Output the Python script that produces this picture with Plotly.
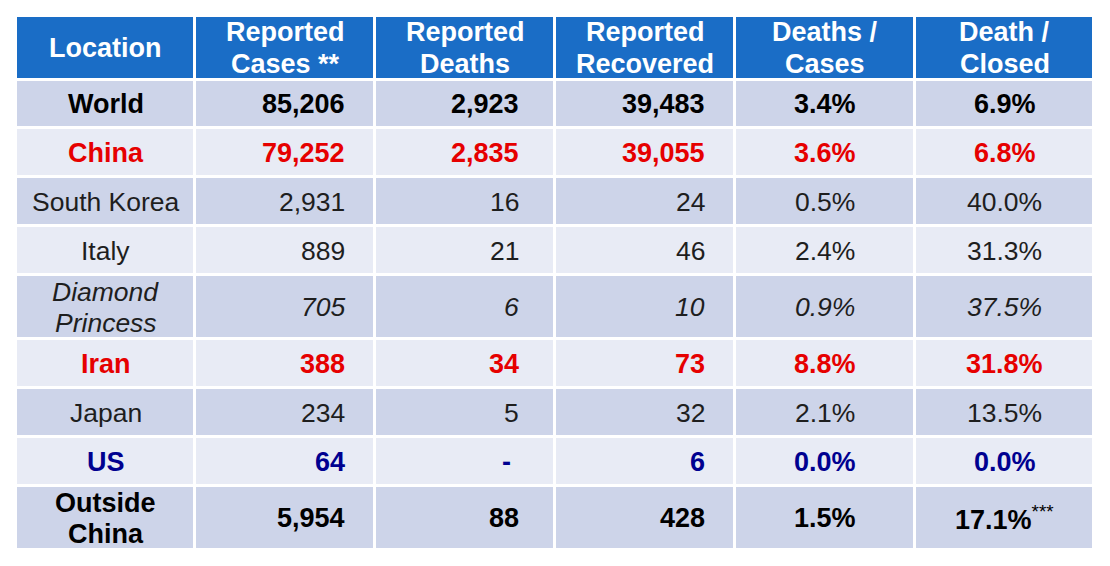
import plotly.graph_objects as go

# ---------------- data ----------------
headers = ["Location", "Reported<br>Cases **", "Reported<br>Deaths",
           "Reported<br>Recovered", "Deaths /<br>Cases", "Death /<br>Closed"]
locations = ["World", "China", "South Korea", "Italy", "Diamond<br>Princess",
             "Iran", "Japan", "US", "Outside<br>China"]
cases = [85206, 79252, 2931, 889, 705, 388, 234, 64, 5954]
deaths = [2923, 2835, 16, 21, 6, 34, 5, None, 88]
recovered = [39483, 39055, 24, 46, 10, 73, 32, 6, 428]
deaths_per_cases = [3.4, 3.6, 0.5, 2.4, 0.9, 8.8, 2.1, 0.0, 1.5]
death_per_closed = [6.9, 6.8, 40.0, 31.3, 37.5, 31.8, 13.5, 0.0, 17.1]
footnote_marks = ["", "", "", "", "", "", "", "", "***"]

# ---------------- styles / layout ----------------
row_style = ["bold", "bold_red", "normal", "normal", "italic",
             "bold_red", "normal", "bold_navy", "bold"]
style_color = {"bold": "#000000", "bold_red": "#e60000", "normal": "#1e1e1e",
               "italic": "#1e1e1e", "bold_navy": "#000090"}
HEADER_BG, DARK_BG, LIGHT_BG = "#1a6dc6", "#cdd4e9", "#e8ebf5"

col_widths = [179, 180, 180, 180, 180, 179]
row_heights = [64, 48, 49, 49, 49, 64, 49, 49, 49, 64]
table_left, table_top = 16, 16
col_align = ["center", "right", "right", "right", "center", "center"]
right_pad = [0, 28, 34, 28, 0, 0]
MISSING_SHIFT = -8
FONT = "Liberation Sans, Arial, sans-serif"
HEADER_SIZE = 27
BOLD_SIZE = 27
NORMAL_SIZE = 26.5
HEADER_LINE_GAP = 32
BODY_LINE_GAP = 31
PAGE_MARGIN = 8  # default body margin of the html page
W, H = 1110, 566

x_edges = [table_left]
for w in col_widths:
    x_edges.append(x_edges[-1] + w)
y_edges = [table_top]
for h in row_heights:
    y_edges.append(y_edges[-1] + h)


def fmt_int(v):
    return "-" if v is None else f"{v:,}"


def fmt_pct(v):
    return f"{v:.1f}%"


rows_text = []
rows_missing = []
for i in range(len(locations)):
    rows_text.append([
        locations[i], fmt_int(cases[i]), fmt_int(deaths[i]), fmt_int(recovered[i]),
        fmt_pct(deaths_per_cases[i]), fmt_pct(death_per_closed[i]),
    ])
    rows_missing.append([False, cases[i] is None, deaths[i] is None,
                         recovered[i] is None, False, False])

# fill categories: 2 = header, 0 = dark, 1 = light
z = [[2] * len(headers)]
for i in range(len(locations)):
    z.append([0 if i % 2 == 0 else 1] * len(headers))

fig = go.Figure()
fig.add_trace(go.Heatmap(
    z=z, x=x_edges, y=y_edges, zmin=0, zmax=2,
    colorscale=[[0, DARK_BG], [0.5, LIGHT_BG], [1, HEADER_BG]],
    showscale=False, xgap=3, ygap=3, hoverinfo="skip",
))


def cell_x(c):
    if col_align[c] == "right":
        return x_edges[c + 1] - right_pad[c], "right"
    return (x_edges[c] + x_edges[c + 1]) / 2, "center"


annotations = []


def add_text(text, xx, anchor, yc, gap, font, wrap, xshift=0):
    lines = text.split("<br>")
    n = len(lines)
    for k, ln in enumerate(lines):
        annotations.append(dict(
            x=xx, y=yc + (k - (n - 1) / 2) * gap,
            xref="x", yref="y", text=wrap(ln), showarrow=False,
            xanchor=anchor, yanchor="middle", align="center",
            xshift=xshift, font=font,
        ))


for c, h in enumerate(headers):
    add_text(h, (x_edges[c] + x_edges[c + 1]) / 2, "center",
             (y_edges[0] + y_edges[1]) / 2, HEADER_LINE_GAP,
             dict(family=FONT, size=HEADER_SIZE, color="white"),
             lambda s: f"<b>{s}</b>")

for r, vals in enumerate(rows_text):
    st = row_style[r]
    if st.startswith("bold"):
        wrap, size = (lambda s: f"<b>{s}</b>"), BOLD_SIZE
    elif st == "italic":
        wrap, size = (lambda s: f"<i>{s}</i>"), NORMAL_SIZE
    else:
        wrap, size = (lambda s: s), NORMAL_SIZE
    for c, t in enumerate(vals):
        xx, anchor = cell_x(c)
        w = wrap
        if c == 5 and footnote_marks[r]:
            mark = footnote_marks[r]
            w = (lambda s, base=wrap, m=mark: base(s) + f"<sup>{m}</sup>")
        add_text(t, xx, anchor, (y_edges[r + 1] + y_edges[r + 2]) / 2,
                 BODY_LINE_GAP,
                 dict(family=FONT, size=size, color=style_color[st]), w,
                 xshift=MISSING_SHIFT if rows_missing[r][c] else 0)

fw, fh = W - 2 * PAGE_MARGIN, H - 2 * PAGE_MARGIN
fig.update_layout(
    width=fw, height=fh,
    margin=dict(l=0, r=0, t=0, b=0),
    paper_bgcolor="white", plot_bgcolor="white",
    xaxis=dict(range=[PAGE_MARGIN, PAGE_MARGIN + fw], visible=False, fixedrange=True),
    yaxis=dict(range=[PAGE_MARGIN + fh, PAGE_MARGIN], visible=False, fixedrange=True),
    annotations=annotations,
    showlegend=False,
)

fig.write_html("out.html", config={"displayModeBar": False})
